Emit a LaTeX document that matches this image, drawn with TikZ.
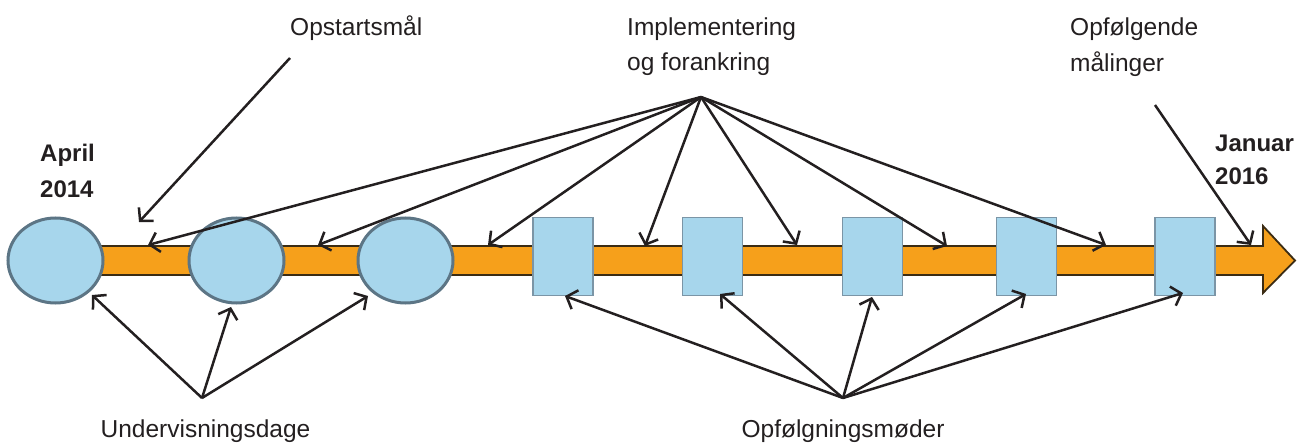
\documentclass[tikz,border=0pt]{standalone}
\usepackage{fontspec}
\setmainfont{Liberation Sans}
\usetikzlibrary{arrows.meta,shapes.geometric}
\definecolor{barorange}{HTML}{F6A01B}
\definecolor{barline}{HTML}{3B2C14}
\definecolor{boxblue}{HTML}{A7D6EC}
\definecolor{circline}{HTML}{5C7585}
\definecolor{rectline}{HTML}{7B95A6}
\definecolor{txt}{HTML}{231F20}
\tikzset{
  ell/.style={ellipse,draw=circline,line width=3pt,fill=boxblue,minimum width=95pt,minimum height=85pt,inner sep=0pt},
  box/.style={rectangle,draw=rectline,line width=1.8pt,fill=boxblue,minimum width=60pt,minimum height=78pt,inner sep=0pt},
  lbl/.style={anchor=base west,inner sep=0pt,text=txt,font=\fontsize{24.5}{30}\selectfont},
  blbl/.style={anchor=base west,inner sep=0pt,text=txt,font=\fontsize{24}{30}\selectfont\bfseries},
  clbl/.style={anchor=base,inner sep=0pt,text=txt,font=\fontsize{24.5}{30}\selectfont},
  pt/.style={-{Straight Barb[length=9pt,width=20pt,line width=2.5pt]},line width=2.5pt,draw=txt}
}
\begin{document}
\begin{tikzpicture}[x=1pt,y=-1pt]
\useasboundingbox (0,0) rectangle (1298,443);
% bar
\draw[fill=barorange,draw=barline,line width=1.8pt,line join=miter]
  (100,246) -- (1263,246) -- (1263,226) -- (1295,260.5) -- (1263,293) -- (1263,275) -- (100,275) -- cycle;
% circles
\node[ell] (c1) at (55.5,260.5) {};
\node[ell] (c2) at (236.5,260.5) {};
\node[ell] (c3) at (405.5,260.5) {};
% boxes
\node[box] (r1) at (563,256.5) {};
\node[box] (r2) at (712.5,256.5) {};
\node[box] (r3) at (872.5,256.5) {};
\node[box] (r4) at (1026.5,256.5) {};
\node[box] (r5) at (1185,256.5) {};
% texts
\node[lbl] (opst) at (290,36) {Opstartsmål};
\node[lbl] (impl1) at (627,36) {Implementering};
\node[lbl] (impl2) at (627,71) {og forankring};
\node[lbl] (opfm1) at (1070,36) {Opfølgende};
\node[lbl] (opfm2) at (1070,72) {målinger};
\node[blbl] (apr1) at (40,162) {April};
\node[blbl] (apr2) at (40,198) {2014};
\node[blbl] (jan1) at (1215,152) {Januar};
\node[blbl] (jan2) at (1215,185) {2016};
\node[clbl] (underv) at (205.5,437) {Undervisningsdage};
\node[clbl] (opfn) at (843,437) {Opfølgningsmøder};
% origins
\coordinate (oOpst) at (290,58);
\coordinate (oImpl) at (701,97);
\coordinate (oOpfm) at (1155,105);
\coordinate (oUnd) at (202,398);
\coordinate (oOpfn) at (843,398);
% targets
\coordinate (tOpst) at (139,222);
\coordinate (tI1) at (148,245);
\coordinate (tI2) at (318,245);
\coordinate (tI3) at (488,245);
\coordinate (tI4) at (645,246);
\coordinate (tI5) at (797,245);
\coordinate (tI6) at (947,246);
\coordinate (tI7) at (1106,245);
\coordinate (tOpfm) at (1251,245);
\coordinate (tU1) at (92,295);
\coordinate (tU2) at (231,307);
\coordinate (tU3) at (368,296);
\coordinate (tO1) at (565,296);
\coordinate (tO2) at (720,294);
\coordinate (tO3) at (872,297);
\coordinate (tO4) at (1026,294);
\coordinate (tO5) at (1183,293);
% connectors
\draw[pt] (oOpst) -- (tOpst);
\foreach \t in {tI1,tI2,tI3,tI4,tI5,tI6,tI7} \draw[pt] (oImpl) -- (\t);
\draw[pt] (oOpfm) -- (tOpfm);
\foreach \t in {tU1,tU2,tU3} \draw[pt] (oUnd) -- (\t);
\foreach \t in {tO1,tO2,tO3,tO4,tO5} \draw[pt] (oOpfn) -- (\t);
\end{tikzpicture}
\end{document}
